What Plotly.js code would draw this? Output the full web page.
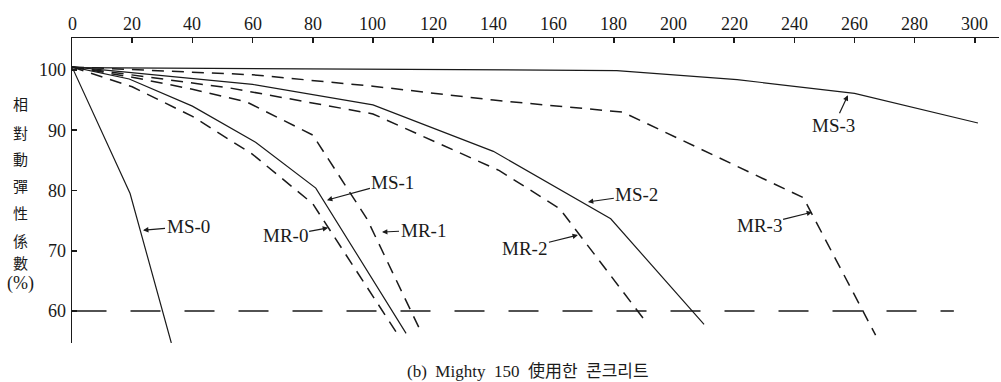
<!DOCTYPE html>
<html>
<head>
<meta charset="utf-8">
<script src="https://cdn.plot.ly/plotly-3.0.1.min.js"></script>
<style>html,body{margin:0;padding:0;background:#fff;}#chart{width:1001px;height:382px;}</style>
</head>
<body>
<div id="chart"></div>
<script>
// Data (x: cycles, y: relative dynamic modulus %)
const ms0X = [0, 19.3, 33];
const ms0Y = [100.5, 79.5, 54.7];
const mr0X = [0, 20, 40, 60, 80, 108];
const mr0Y = [100.5, 97.2, 92.3, 86.0, 77.8, 56.3];
const ms1X = [0, 19, 40, 61, 81, 111];
const ms1Y = [100.5, 98.5, 94.0, 88.0, 80.4, 56.3];
const mr1X = [0, 20, 40, 58, 80, 98, 115.6];
const mr1Y = [100.5, 98.8, 96.8, 94.7, 89.2, 75.3, 56.9];
const ms2X = [0, 60, 100, 140, 179, 210];
const ms2Y = [100.5, 97.6, 94.2, 86.5, 75.3, 57.8];
const mr2X = [0, 52.5, 100, 142, 162, 191];
const mr2Y = [100.5, 97.0, 92.7, 83.3, 77.0, 58.0];
const ms3X = [0, 100, 181, 221, 260, 301];
const ms3Y = [100.4, 100.1, 99.9, 98.4, 96.1, 91.2];
const mr3X = [0, 60, 100, 140, 183, 243, 267];
const mr3Y = [100.5, 99.2, 97.3, 95.0, 93.0, 78.8, 56.0];
const refX = [1.5, 293];
const refY = [60, 60];

const xTicks = [0, 20, 40, 60, 80, 100, 120, 140, 160, 180, 200, 220, 240, 260, 280, 300];
const yTicks = [60, 70, 80, 90, 100];
const yTitleChars = ['相', '對', '動', '彈', '性', '係', '數', '(%)'];
const caption = '(b)  Mighty  150  使用한  콘크리트';

// labels: [text, headX, headY, ax, ay]
const seriesLabels = [
  ['MS-0', 23.6, 73.4, 45, -4],
  ['MS-1', 84.7, 78.4, 66, -18],
  ['MR-0', 85.1, 73.8, -43, 8],
  ['MR-1', 103, 73.1, 41, -2],
  ['MR-2', 168.1, 72.6, -53, 13],
  ['MS-2', 171.4, 78.1, 49, -7],
  ['MR-3', 245.9, 76.4, -53, 13],
  ['MS-3', 257.8, 95.8, -14, 30]
];

const ink = '#1a1a1a';
const solid = (x, y) => ({x, y, type: 'scatter', mode: 'lines', line: {color: ink, width: 1.2}, hoverinfo: 'skip', showlegend: false, cliponaxis: false});
const dashed = (x, y) => ({x, y, type: 'scatter', mode: 'lines', line: {color: ink, width: 1.5, dash: '12px,8px'}, hoverinfo: 'skip', showlegend: false, cliponaxis: false});

const traces = [
  solid(ms0X, ms0Y), dashed(mr0X, mr0Y), solid(ms1X, ms1Y), dashed(mr1X, mr1Y),
  solid(ms2X, ms2Y), dashed(mr2X, mr2Y), solid(ms3X, ms3Y), dashed(mr3X, mr3Y),
  {x: refX, y: refY, type: 'scatter', mode: 'lines', line: {color: ink, width: 1.5, dash: '30px,24px'}, hoverinfo: 'skip', showlegend: false}
];

const serif = 'Liberation Serif, DejaVu Serif, serif';
const annotations = [];
// top axis tick labels, placed slightly lower than plotly's default
xTicks.forEach(v => {
  annotations.push({
    text: String(v), x: v, xref: 'x', yref: 'paper', y: (343 - 24) / 305,
    xanchor: 'center', yanchor: 'middle', showarrow: false,
    font: {family: serif, size: 18, color: ink}
  });
});
seriesLabels.forEach(l => {
  annotations.push({
    text: l[0], x: l[1], y: l[2], xref: 'x', yref: 'y', ax: l[3], ay: l[4],
    showarrow: true, arrowhead: 2, arrowsize: 0.9, arrowwidth: 1.2, arrowcolor: ink,
    font: {family: serif, size: 19, color: ink}, standoff: 0, startstandoff: 0
  });
});
const charY = [103, 132, 158, 185, 212, 240, 262, 283];
yTitleChars.forEach((c, i) => {
  annotations.push({
    text: c, xref: 'paper', yref: 'paper', x: (20 - 72) / 927, y: (343 - charY[i]) / 305,
    xanchor: 'center', yanchor: 'middle', showarrow: false,
    font: {family: c === '(%)' ? serif : 'Noto Sans CJK TC, Noto Sans CJK KR, sans-serif', size: c === '(%)' ? 18 : 15, color: ink}
  });
});
annotations.push({
  text: caption, xref: 'paper', yref: 'paper', x: (528 - 72) / 927, y: (343 - 371) / 305,
  xanchor: 'center', yanchor: 'middle', showarrow: false,
  font: {family: 'Liberation Serif, Noto Sans CJK KR, serif', size: 17, color: ink}
});

const layout = {
  width: 1001, height: 382,
  margin: {l: 72, r: 2, t: 38, b: 39, pad: 0},
  paper_bgcolor: '#fff', plot_bgcolor: '#fff',
  showlegend: false,
  xaxis: {
    side: 'top', range: [0, 308], tickvals: xTicks, showticklabels: false,
    showgrid: false, zeroline: false, showline: true, linecolor: ink, linewidth: 1.5,
    ticks: 'inside', ticklen: 5, tickwidth: 1.5, tickcolor: ink, fixedrange: true
  },
  yaxis: {
    range: [54.7, 105.3], tickvals: yTicks, ticktext: yTicks.map(String),
    showgrid: false, zeroline: false, showline: true, linecolor: ink, linewidth: 1.5,
    ticks: 'inside', ticklen: 5, tickwidth: 1.5, tickcolor: ink, ticklabelstandoff: 1,
    tickfont: {family: serif, size: 18, color: ink}, fixedrange: true
  },
  annotations: annotations
};

Plotly.newPlot('chart', traces, layout, {staticPlot: true, displayModeBar: false});
</script>
</body>
</html>
